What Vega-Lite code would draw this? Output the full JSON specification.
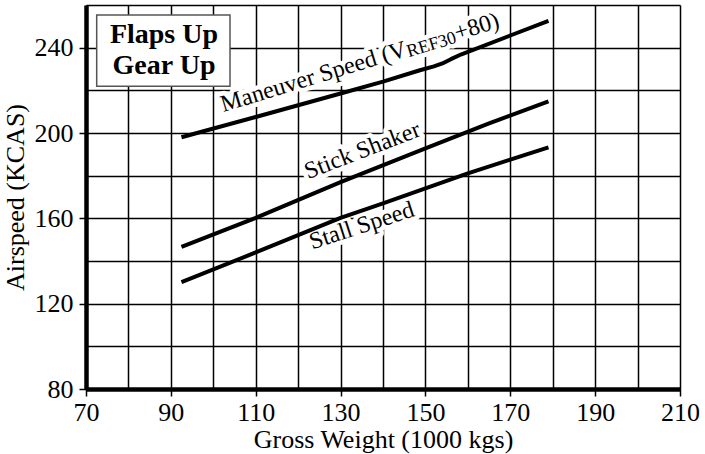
{
  "$schema": "https://vega.github.io/schema/vega-lite/v6.json",
  "width": 594,
  "height": 384,
  "autosize": {"type": "none"},
  "padding": {"left": 86, "top": 5, "right": 25, "bottom": 65},
  "background": "white",
  "config": {"font": "Liberation Serif", "view": {"stroke": null}},
  "datasets": {
    "curves": [
      {"series": "Maneuver Speed", "x": 92.5, "y": 198},
      {"series": "Maneuver Speed", "x": 110, "y": 207.5},
      {"series": "Maneuver Speed", "x": 130, "y": 218.5},
      {"series": "Maneuver Speed", "x": 140, "y": 224.1},
      {"series": "Maneuver Speed", "x": 148.7, "y": 229.4},
      {"series": "Maneuver Speed", "x": 152, "y": 231.2},
      {"series": "Maneuver Speed", "x": 154, "y": 232.6},
      {"series": "Maneuver Speed", "x": 156, "y": 234.6},
      {"series": "Maneuver Speed", "x": 158.5, "y": 236.9},
      {"series": "Maneuver Speed", "x": 170, "y": 245.7},
      {"series": "Maneuver Speed", "x": 179, "y": 252.6},
      {"series": "Stick Shaker", "x": 92.5, "y": 146.6},
      {"series": "Stick Shaker", "x": 110, "y": 160.2},
      {"series": "Stick Shaker", "x": 130, "y": 177},
      {"series": "Stick Shaker", "x": 150, "y": 192.8},
      {"series": "Stick Shaker", "x": 165, "y": 204.5},
      {"series": "Stick Shaker", "x": 179, "y": 214.8},
      {"series": "Stall Speed", "x": 92.5, "y": 130.1},
      {"series": "Stall Speed", "x": 110, "y": 144},
      {"series": "Stall Speed", "x": 130, "y": 160.2},
      {"series": "Stall Speed", "x": 140, "y": 167},
      {"series": "Stall Speed", "x": 150, "y": 174},
      {"series": "Stall Speed", "x": 160, "y": 181.1},
      {"series": "Stall Speed", "x": 170, "y": 187.5},
      {"series": "Stall Speed", "x": 179, "y": 193.3}
    ],
    "labels": [
      {"id": "man1", "text": "Maneuver Speed (V", "x": 102.36, "y": 209.79},
      {"id": "man2", "text": "REF30", "x": 146.05, "y": 235.48},
      {"id": "man3", "text": "+80)", "x": 157.44, "y": 243.39},
      {"id": "stick", "text": "Stick Shaker", "x": 135.76, "y": 188.6},
      {"id": "stall", "text": "Stall Speed", "x": 135.5, "y": 153.3},
      {"id": "flaps", "text": "Flaps Up", "x": 88.38, "y": 241.98},
      {"id": "gear", "text": "Gear Up", "x": 88.38, "y": 227.86}
    ],
    "box": [
      {"x": 72.52, "x2": 103.94, "y": 255.29, "y2": 221.88}
    ]
  },
  "encoding": {
    "x": {
      "field": "x",
      "type": "quantitative",
      "scale": {"domain": [70, 210], "nice": false, "zero": false},
      "axis": {
        "values": [70, 80, 90, 100, 110, 120, 130, 140, 150, 160, 170, 180, 190, 200, 210],
        "grid": true,
        "gridColor": "black",
        "gridWidth": 1.5,
        "gridOpacity": 1,
        "domainColor": "black",
        "domainWidth": 4.5,
        "tickColor": "black",
        "tickWidth": 1.5,
        "tickSize": 7,
        "tickOpacity": {"condition": {"test": "(datum.value - 70) % 20 == 0", "value": 1}, "value": 0},
        "labelExpr": "(datum.value - 70) % 20 == 0 ? datum.label : ''",
        "labelFont": "Liberation Serif",
        "labelFontSize": 26,
        "labelColor": "black",
        "labelBaseline": "alphabetic",
        "labelPadding": 24,
        "labelOverlap": false,
        "labelFlush": false,
        "title": "Gross Weight (1000 kgs)",
        "titleFont": "Liberation Serif",
        "titleFontSize": 26,
        "titleFontWeight": "normal",
        "titleColor": "black",
        "titleBaseline": "alphabetic",
        "titleAlign": "center",
        "titleX": 297,
        "titleY": 58
      }
    },
    "y": {
      "field": "y",
      "type": "quantitative",
      "scale": {"domain": [80, 260], "nice": false, "zero": false},
      "axis": {
        "values": [80, 100, 120, 140, 160, 180, 200, 220, 240, 260],
        "grid": true,
        "gridColor": "black",
        "gridWidth": 1.5,
        "gridOpacity": 1,
        "domainColor": "black",
        "domainWidth": 4.5,
        "tickColor": "black",
        "tickWidth": 1.5,
        "tickSize": 7,
        "tickOpacity": {"condition": {"test": "datum.value % 40 == 0", "value": 1}, "value": 0},
        "labelExpr": "datum.value % 40 == 0 ? datum.label : ''",
        "labelFont": "Liberation Serif",
        "labelFontSize": 26,
        "labelColor": "black",
        "labelBaseline": "middle",
        "labelAlign": "right",
        "labelPadding": 6,
        "labelOverlap": false,
        "labelFlush": false,
        "title": "Airspeed (KCAS)",
        "titleFont": "Liberation Serif",
        "titleFontSize": 26,
        "titleFontWeight": "normal",
        "titleColor": "black",
        "titleAngle": -90,
        "titleBaseline": "alphabetic",
        "titleAlign": "center",
        "titleX": -63,
        "titleY": 192
      }
    }
  },
  "layer": [
    {
      "data": {"name": "box"},
      "mark": {"type": "rect", "fill": "white", "stroke": "#555555", "strokeWidth": 1.5},
      "encoding": {"x2": {"field": "x2"}, "y2": {"field": "y2"}}
    },
    {
      "data": {"name": "labels"},
      "transform": [{"filter": "datum.id == 'man1' || datum.id == 'man3'"}],
      "mark": {"type": "text", "font": "Liberation Serif", "fontSize": 24, "angle": -17, "align": "left", "baseline": "alphabetic", "fill": "white", "stroke": "white", "strokeWidth": 9, "strokeJoin": "round"},
      "encoding": {"text": {"field": "text"}}
    },
    {
      "data": {"name": "labels"},
      "transform": [{"filter": "datum.id == 'man2'"}],
      "mark": {"type": "text", "font": "Liberation Serif", "fontSize": 18, "angle": -17, "align": "left", "baseline": "alphabetic", "fill": "white", "stroke": "white", "strokeWidth": 9, "strokeJoin": "round"},
      "encoding": {"text": {"field": "text"}}
    },
    {
      "data": {"name": "labels"},
      "transform": [{"filter": "datum.id == 'stick'"}],
      "mark": {"type": "text", "font": "Liberation Serif", "fontSize": 24, "angle": -21, "align": "center", "baseline": "alphabetic", "fill": "white", "stroke": "white", "strokeWidth": 9, "strokeJoin": "round"},
      "encoding": {"text": {"field": "text"}}
    },
    {
      "data": {"name": "labels"},
      "transform": [{"filter": "datum.id == 'stall'"}],
      "mark": {"type": "text", "font": "Liberation Serif", "fontSize": 24, "angle": -18, "align": "center", "baseline": "alphabetic", "fill": "white", "stroke": "white", "strokeWidth": 9, "strokeJoin": "round"},
      "encoding": {"text": {"field": "text"}}
    },
    {
      "data": {"name": "curves"},
      "mark": {"type": "line", "color": "black", "strokeWidth": 4, "strokeCap": "butt", "strokeJoin": "round"},
      "encoding": {"detail": {"field": "series"}}
    },
    {
      "data": {"name": "labels"},
      "transform": [{"filter": "datum.id == 'man1' || datum.id == 'man3'"}],
      "mark": {"type": "text", "font": "Liberation Serif", "fontSize": 24, "angle": -17, "align": "left", "baseline": "alphabetic", "fill": "black"},
      "encoding": {"text": {"field": "text"}}
    },
    {
      "data": {"name": "labels"},
      "transform": [{"filter": "datum.id == 'man2'"}],
      "mark": {"type": "text", "font": "Liberation Serif", "fontSize": 18, "angle": -17, "align": "left", "baseline": "alphabetic", "fill": "black"},
      "encoding": {"text": {"field": "text"}}
    },
    {
      "data": {"name": "labels"},
      "transform": [{"filter": "datum.id == 'stick'"}],
      "mark": {"type": "text", "font": "Liberation Serif", "fontSize": 24, "angle": -21, "align": "center", "baseline": "alphabetic", "fill": "black"},
      "encoding": {"text": {"field": "text"}}
    },
    {
      "data": {"name": "labels"},
      "transform": [{"filter": "datum.id == 'stall'"}],
      "mark": {"type": "text", "font": "Liberation Serif", "fontSize": 24, "angle": -18, "align": "center", "baseline": "alphabetic", "fill": "black"},
      "encoding": {"text": {"field": "text"}}
    },
    {
      "data": {"name": "labels"},
      "transform": [{"filter": "datum.id == 'flaps' || datum.id == 'gear'"}],
      "mark": {"type": "text", "font": "Liberation Serif", "fontSize": 28, "fontWeight": "bold", "align": "center", "baseline": "alphabetic", "fill": "black"},
      "encoding": {"text": {"field": "text"}}
    }
  ]
}
